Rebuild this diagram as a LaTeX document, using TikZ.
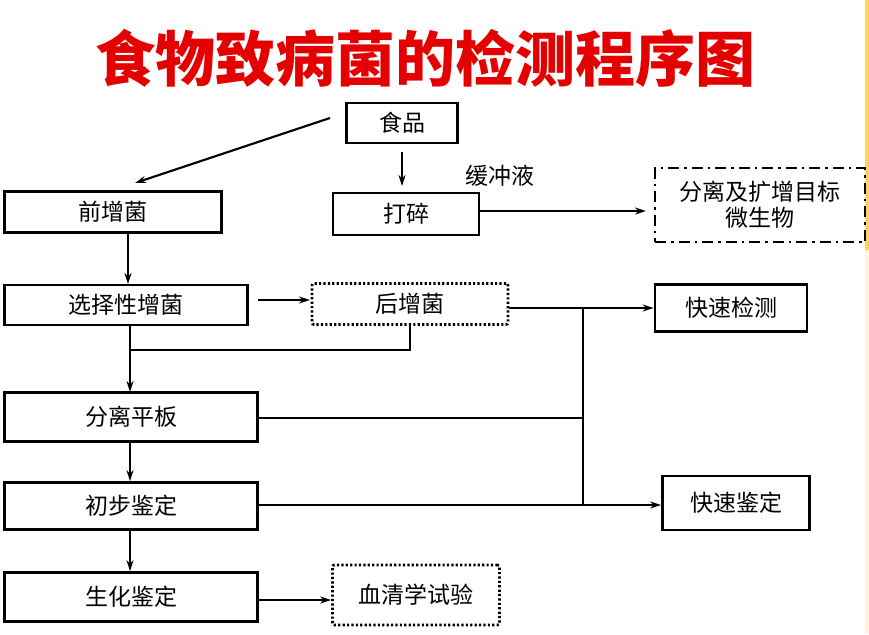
\documentclass[tikz,border=0pt]{standalone}
\usepackage{fontspec}
\usepackage{tikz}
\usetikzlibrary{arrows.meta}
\usetikzlibrary{positioning}
\newfontfamily\cjk{Noto Sans CJK SC}
\setmainfont{Noto Sans CJK SC}
\definecolor{slidegold}{RGB}{255,214,80}
\definecolor{slidepale}{RGB}{255,246,215}

\begin{document}
\begin{tikzpicture}[
      x=1pt,y=-1pt,
      box/.style={draw,line width=2.8pt,inner sep=0pt,font=\cjk\fontsize{23}{26}\selectfont},
      dotbox/.style={box,dash pattern=on 2.2pt off 2.2pt,rounded corners=2pt},
      dashdotbox/.style={box,dash pattern=on 11pt off 5pt on 2.5pt off 5pt},
      link/.style={line width=2.2pt},
      arr/.style={link,-{Stealth[length=11pt,width=7pt]}},
    ]
        \useasboundingbox (0,0) rectangle (869,634);
        \fill[white] (0,0) rectangle (869,634);
        \fill[slidegold] (865,0) rectangle (869,250);
        \fill[slidepale] (865,250) rectangle (869,634);
        % title
        \node[font=\cjk\bfseries\fontsize{60}{64}\selectfont,text=red!90!black] (title) at (425,58) {食物致病菌的检测程序图};
        % nodes
        \node[box,minimum width=111pt,minimum height=40pt] (food) at (402,123) {食品};
        \node[box,minimum width=217pt,minimum height=41pt] (pre) at (113,212) {前增菌};
        \node[box,minimum width=146pt,minimum height=42pt] (crush) at (406,214) {打碎};
        \node[dashdotbox,minimum width=210pt,minimum height=74pt,align=center] (amp) at (760,205) {分离及扩增目标\\微生物};
        \node[box,minimum width=243pt,minimum height=40pt] (sel) at (126,305) {选择性增菌};
        \node[dotbox,minimum width=196pt,minimum height=41pt] (post) at (410,304) {后增菌};
        \node[box,minimum width=152pt,minimum height=47pt] (fastdet) at (731,308) {快速检测};
        \node[box,minimum width=253pt,minimum height=49pt] (plate) at (131,417) {分离平板};
        \node[box,minimum width=253pt,minimum height=47pt] (prelim) at (131,506) {初步鉴定};
        \node[box,minimum width=253pt,minimum height=49pt] (bio) at (131,597) {生化鉴定};
        \node[dotbox,minimum width=167pt,minimum height=60pt] (sero) at (416,595) {血清学试验};
        \node[box,minimum width=147pt,minimum height=54pt] (fastid) at (736,503) {快速鉴定};
        \node[font=\cjk\fontsize{23}{26}\selectfont] (buffer) at (500,176) {缓冲液};
        % helper points
        \coordinate (fs) at (330,118);
        \coordinate (fe) at (135,183);
        \coordinate (hub) at (583,308);
        \coordinate (join) at (130,350);
        % connectors
        \draw[arr] (fs) -- (fe);
        \draw[arr] (402,152) -- (402,186);
        \draw[arr] (crush.east |- 0,211) -- (646,211);
        \draw[arr] (128,233) -- (128,284);
        \draw[arr] (258,300) -- (310,300);
        \draw[link] (post.south) |- (join);
        \draw[arr] (130,325) -- (130,392);
        \draw[link] (post.east |- hub) -- (hub);
        \draw[arr] (hub) -- (fastdet.west |- hub);
        \draw[link] (hub) -- (583,505);
        \draw[link] (plate.east |- 0,418) -- (583,418);
        \draw[arr] (prelim.east |- 0,505) -- (fastid.west |- 0,505);
        \draw[arr] (plate.south -| 130,0) -- (prelim.north -| 130,0);
        \draw[arr] (prelim.south -| 130,0) -- (bio.north -| 130,0);
        \draw[arr] (bio.east |- 0,600) -- (sero.west |- 0,600);
    \end{tikzpicture}
\end{document}
